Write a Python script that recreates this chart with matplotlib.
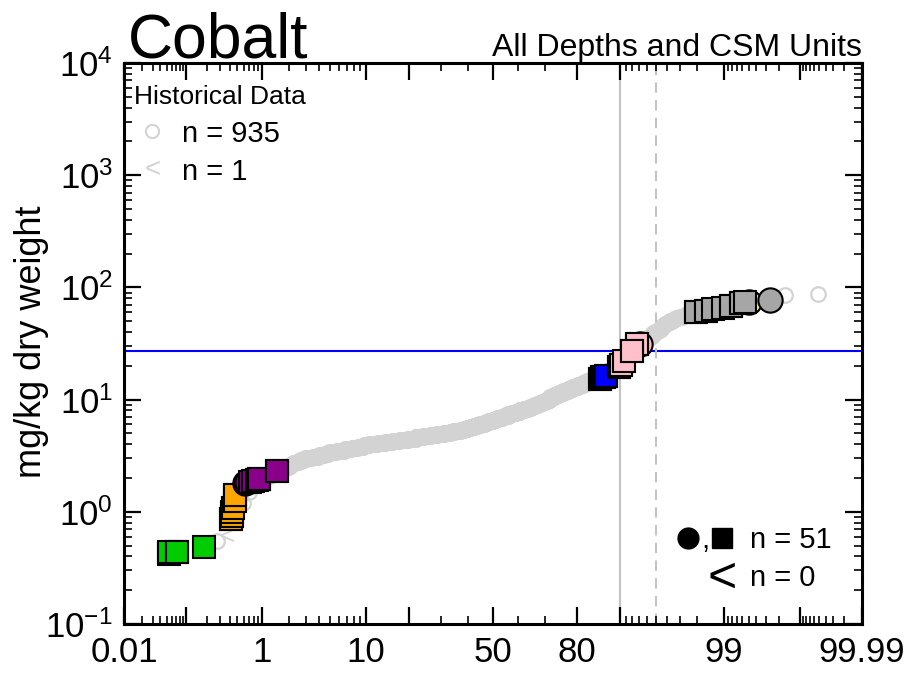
import numpy as np
import matplotlib
matplotlib.use("Agg")
import matplotlib.pyplot as plt
from matplotlib.lines import Line2D
from statistics import NormalDist

plt.rcParams["font.family"] = ["Liberation Sans", "DejaVu Sans"]
plt.rcParams["mathtext.fontset"] = "custom"
plt.rcParams["mathtext.rm"] = "Liberation Sans"
plt.rcParams["mathtext.it"] = "Liberation Sans:italic"
plt.rcParams["mathtext.bf"] = "Liberation Sans:bold"
plt.rcParams["mathtext.default"] = "regular"

# ---------------- historical cobalt results (mg/kg dry weight) ----------------
# sorted detected concentrations and how many samples reported each one
hist_values = [
    0.40, 0.46, 0.55, 0.95, 1.2, 1.5, 1.7, 1.9, 2.0, 2.1, 2.2, 2.3, 2.4, 2.5,
    2.6, 2.7, 2.8, 2.9, 3.0, 3.1, 3.2, 3.3, 3.4, 3.5, 3.6, 3.7, 3.8, 3.9,
    4.0, 4.1, 4.2, 4.3, 4.4, 4.5, 4.6, 4.7, 4.8, 4.9, 5.0, 5.1, 5.2, 5.3,
    5.4, 5.5, 5.6, 5.7, 5.8, 5.9, 6.0, 6.1, 6.2, 6.3, 6.4, 6.5, 6.6, 6.7,
    6.8, 6.9, 7.0, 7.2, 7.4, 7.6, 7.8, 8.0, 8.2, 8.4, 8.6, 8.8, 9.0, 9.2,
    9.4, 9.6, 9.8, 10, 10.5, 11, 11.5, 12, 12.5, 13, 13.5, 14, 14.5, 15,
    15.5, 16, 16.5, 17, 17.5, 18, 18.5, 19, 19.5, 20, 20.5, 21, 22, 23, 24,
    25, 26, 27, 28, 29, 30, 31, 32, 33, 34, 35, 36, 37, 38, 39, 40, 41, 42,
    43, 44, 45, 46, 47, 48, 49, 50, 51, 52, 53, 54, 55, 56, 57, 58, 59, 60,
    61, 62, 63, 64, 65, 66, 67, 68, 70, 72, 73, 75, 78, 85, 87,
]
hist_counts = [
    1, 1, 1, 1, 1, 1, 1, 1, 1, 2, 2, 1, 2, 2,
    1, 2, 2, 3, 5, 5, 5, 4, 8, 9, 9, 9, 9, 9,
    15, 16, 16, 16, 21, 21, 21, 22, 21, 22, 22, 12, 12, 12,
    12, 12, 12, 12, 12, 11, 8, 8, 8, 9, 8, 8, 9, 8,
    9, 7, 8, 15, 14, 15, 14, 15, 14, 9, 8, 8, 9, 8,
    8, 8, 8, 8, 14, 14, 14, 14, 12, 14, 13, 10, 8, 7,
    6, 7, 6, 5, 5, 5, 5, 4, 4, 3, 3, 3, 3, 3, 3,
    3, 3, 3, 2, 2, 2, 2, 2, 2, 2, 3, 2, 2, 1, 2, 1, 2, 1,
    2, 1, 1, 1, 1, 2, 1, 2, 1, 1, 2, 1, 2, 1, 1, 1, 2, 2,
    2, 2, 2, 1, 1, 1, 1, 2, 1, 1, 1, 1, 1, 1, 1,
]
# non-detects (reporting limits)
hist_nondetects = [0.6]

# ---------------- CSM unit samples ----------------
csm_pct = [
    0.055, 0.055, 0.072, 0.072, 0.179,
    0.41, 0.41, 0.42, 0.43, 0.44, 0.46, 0.47, 0.47,
    0.62, 0.66, 0.72, 0.78, 0.86, 0.92, 0.92, 1.47, 1.47,
    86.0, 86.0, 86.4, 86.8, 87.2, 87.2,
    93.1, 92.6, 92.6, 89.8, 89.8, 90.1, 90.1, 90.7, 91.9, 91.9,
    99.50,
    97.96, 97.96, 98.41, 98.41, 98.67, 98.98, 99.18, 99.18, 99.38, 99.38,
    99.45, 99.74,
]
csm_value = [
    0.42, 0.44, 0.44, 0.44, 0.485,
    0.86, 0.86, 0.92, 0.99, 1.08, 1.25, 1.42, 1.42,
    1.80, 1.86, 1.83, 1.88, 1.92, 1.95, 1.95, 2.30, 2.30,
    15.4, 15.4, 15.8, 16.0, 16.2, 16.2,
    31.6, 31.0, 31.0, 19.6, 19.6, 20.5, 20.5, 22.3, 27.0, 27.0,
    74.0,
    60.4, 60.4, 61.6, 61.6, 64.3, 65.6, 68.4, 68.4, 72.9, 72.9,
    73.5, 77.7,
]
csm_sample_type = [
    "B", "B", "B", "B", "B",
    "B", "B", "B", "B", "B", "B", "B", "B",
    "A", "A", "B", "B", "B", "B", "B", "B", "B",
    "B", "B", "B", "B", "B", "B",
    "A", "B", "B", "B", "B", "B", "B", "B", "B", "B",
    "A",
    "B", "B", "B", "B", "B", "B", "B", "B", "B", "B",
    "B", "A",
]
csm_unit = (["U1"] * 5 + ["U2"] * 8 + ["U3"] * 9 + ["U4"] * 6
            + ["U5"] * 10 + ["U6"] * 1 + ["U7"] * 12)

screening_level = 27.0
percentile_lines = [90, 95]

# ---------------- styling ----------------
unit_colors = {"U1": "#00cc00", "U2": "#ffa500", "U3": "#8b008b",
               "U4": "#0000ff", "U5": "#ffc0cb", "U6": "#ffff00",
               "U7": "#a6a6a6"}
type_markers = {"A": ("o", 17.5), "B": ("s", 15.5)}
hist_gray = "#d3d3d3"

_nd = NormalDist()


def pct_to_z(p):
    p = np.asarray(p, dtype=float)
    flat = np.clip(p.ravel() / 100.0, 1e-9, 1 - 1e-9)
    return np.array([_nd.inv_cdf(v) for v in flat]).reshape(p.shape)


def z_to_pct(z):
    z = np.asarray(z, dtype=float)
    return np.array([_nd.cdf(v) * 100.0 for v in z.ravel()]).reshape(z.shape)


W, H = 907, 675
fig = plt.figure(figsize=(W / 100, H / 100), dpi=100)
ax = fig.add_axes([124 / W, 1 - 624 / H, 738 / W, 561 / H])


def fx(px):
    return px / W


def fy(py):
    return 1 - py / H


# plotting positions of the historical data (detects + non-detects ranked together)
detected = np.repeat(np.array(hist_values, float), hist_counts)
nondet = np.array(hist_nondetects, float)
allv = np.concatenate([detected, nondet])
is_nd = np.concatenate([np.zeros(detected.size, bool), np.ones(nondet.size, bool)])
order = np.argsort(allv, kind="stable")
N = allv.size
pp = np.empty(N)
pp[order] = (np.arange(1, N + 1) - 0.5) / N * 100.0

ax.set_xscale("function", functions=(pct_to_z, z_to_pct))
ax.set_yscale("log")
ax.set_xlim(0.01, 99.99)
ax.set_ylim(0.1, 1e4)

# reference lines
ax.axhline(screening_level, color="#0000ff", lw=1.5, zorder=1)
ax.axvline(percentile_lines[0], color="#c4c4c4", lw=1.5, zorder=1)
ax.axvline(percentile_lines[1], color="#c4c4c4", lw=1.5, ls=(0, (5, 3.5)), zorder=1)

ax.plot(pp[~is_nd], allv[~is_nd], ls="none", marker="o", ms=10.5, mfc="none",
        mec=hist_gray, mew=1.6, zorder=2)
for p, v in zip(pp[is_nd], allv[is_nd]):
    ax.text(p, v, "<", fontsize=19, color=hist_gray, ha="center", va="center",
            zorder=2)

for p, v, t, u in zip(csm_pct, csm_value, csm_sample_type, csm_unit):
    m, s = type_markers[t]
    ax.plot([p], [v], ls="none", marker=m, ms=s, mfc=unit_colors[u], mec="black",
            mew=1.5, zorder=3)

# axes, ticks
for sp in ax.spines.values():
    sp.set_linewidth(2.2)

xmaj = [0.01, 0.1, 1, 10, 20, 50, 80, 90, 99, 99.9, 99.99]
xlab = ["0.01", "", "1", "10", "", "50", "80", "", "99", "", "99.99"]
xmin = ([0.02, 0.03, 0.04, 0.05, 0.06, 0.07, 0.08, 0.09]
        + [0.2, 0.3, 0.4, 0.5, 0.6, 0.7, 0.8, 0.9]
        + [2, 3, 4, 5, 6, 7, 8, 9, 30, 40, 60, 70]
        + [91, 92, 93, 94, 95, 96, 97, 98]
        + [99.1, 99.2, 99.3, 99.4, 99.5, 99.6, 99.7, 99.8]
        + [99.91, 99.92, 99.93, 99.94, 99.95, 99.96, 99.97, 99.98])
ax.set_xticks(xmaj)
ax.set_xticklabels(xlab)
ax.set_xticks(xmin, minor=True)
ax.set_xticklabels([], minor=True)

ymaj = [0.1, 1, 10, 100, 1000, 10000]
ylab = [r"$10^{-1}$", r"$10^{0}$", r"$10^{1}$", r"$10^{2}$", r"$10^{3}$", r"$10^{4}$"]
ax.set_yticks(ymaj)
ax.set_yticklabels(ylab)
ymin = [m * 10.0 ** e for e in range(-1, 4) for m in range(2, 10)]
ax.set_yticks(ymin, minor=True)
ax.set_yticklabels([], minor=True)

ax.tick_params(which="both", direction="in", top=True, right=True, colors="black")
ax.tick_params(which="major", length=12, width=1.6, labelsize=25)
ax.tick_params(which="minor", length=5.5, width=1.2)
ax.tick_params(axis="x", which="major", pad=9)
ax.tick_params(axis="y", which="major", pad=8)

# titles and axis label
fig.text(fx(128), fy(57), "Cobalt", fontsize=45, ha="left", va="baseline")
fig.text(fx(862), fy(56), "All Depths and CSM Units", fontsize=23, ha="right",
         va="baseline")
fig.text(fx(32), fy(342), "mg/kg dry weight", fontsize=26, rotation=90,
         ha="center", va="center")

# legend: historical data
fig.text(fx(134), fy(104), "Historical Data", fontsize=19, ha="left", va="baseline")
fig.add_artist(Line2D([fx(152)], [fy(131)], transform=fig.transFigure, ls="none",
                      marker="o", ms=9.5, mfc="none", mec=hist_gray, mew=1.5))
fig.text(fx(153), fy(177), "<", fontsize=20, color=hist_gray, ha="center",
         va="baseline")
fig.text(fx(182), fy(142), f"n = {detected.size}", fontsize=21, ha="left",
         va="baseline")
fig.text(fx(182), fy(180), f"n = {nondet.size}", fontsize=21, ha="left",
         va="baseline")

# legend: CSM samples
n_csm_nd = 0
fig.add_artist(Line2D([fx(688)], [fy(538)], transform=fig.transFigure, ls="none",
                      marker="o", ms=15, mfc="black", mec="black"))
fig.text(fx(701), fy(548), ",", fontsize=21, ha="left", va="baseline")
fig.add_artist(Line2D([fx(722)], [fy(538)], transform=fig.transFigure, ls="none",
                      marker="s", ms=15, mfc="black", mec="black"))
fig.text(fx(750), fy(548), f"n = {len(csm_value)}", fontsize=21, ha="left",
         va="baseline")
fig.text(fx(722), fy(592), "<", fontsize=36, ha="center", va="baseline")
fig.text(fx(750), fy(586), f"n = {n_csm_nd}", fontsize=21, ha="left",
         va="baseline")

fig.savefig("out.png", dpi=100)
